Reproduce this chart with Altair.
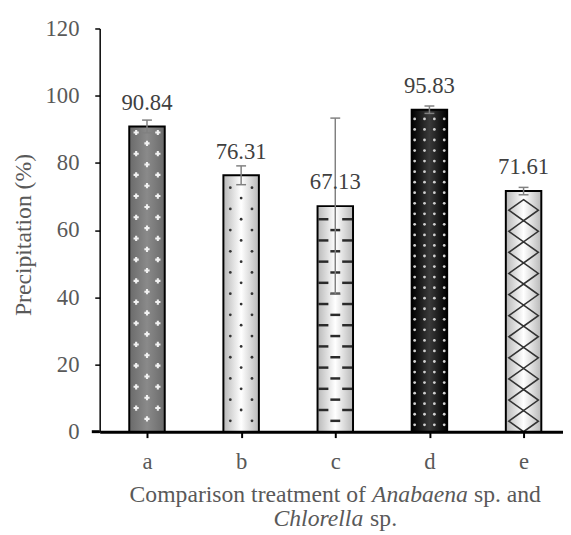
import altair as alt
import pandas as pd

categories = ["a", "b", "c", "d", "e"]
values = [90.84, 76.31, 67.13, 95.83, 71.61]
errors = [1.9, 2.8, 26.2, 1.1, 1.1]
value_labels = ["90.84", "76.31", "67.13", "95.83", "71.61"]
y_ticks = [0, 20, 40, 60, 80, 100, 120]
y_title = "Precipitation (%)"
x_title_1 = ["Comparison treatment of", "Anabaena", "sp. and"]
x_title_2 = ["Chlorella", "sp."]

W, H = 470, 409
STEP = 95.5
X_MIN = -48 / STEP
X_MAX = X_MIN + W / STEP
UX = 1 / STEP
UY = 120 / H
HALF = 18 * UX
FONT = "Liberation Serif, Times New Roman, Tinos, DejaVu Serif, serif"
GRAY = "#595959"
TFS = 23   # tick / value label size
FS = 24    # title size

idx = list(range(len(categories)))
bars = pd.DataFrame({
    "idx": idx, "cat": categories, "value": values, "err": errors,
    "label": value_labels,
})
bars["x1"] = bars["idx"] - HALF
bars["x2"] = bars["idx"] + HALF
bars["lo"] = bars["value"] - bars["err"]
bars["hi"] = bars["value"] + bars["err"]


def lattice(i, cols, step, margin):
    pts = []
    top = values[i] / UY - margin
    for off, start in cols:
        y = start
        while y <= top:
            pts.append({"x": i + off * UX, "y": y * UY})
            y += step
    return pd.DataFrame(pts)


xs = alt.Scale(domain=[X_MIN, X_MAX], nice=False, zero=False)
ys = alt.Scale(domain=[0, 120], nice=False)

label_expr = "[" + ",".join(f"'{c}'" for c in categories) + "][datum.value]"
x_axis = alt.Axis(values=idx, labelExpr=label_expr, grid=False, domainColor="black",
                  domainWidth=3, tickColor="black", tickWidth=2, tickSize=6,
                  labelFont=FONT, labelFontSize=TFS, labelColor=GRAY, labelPadding=13,
                  title=None)
y_axis = alt.Axis(values=y_ticks, grid=False, domainColor="black", domainWidth=1.5,
                  tickColor="black", tickWidth=1.5, tickSize=5, labelFont=FONT,
                  labelFontSize=TFS, labelColor=GRAY, labelPadding=16,
                  title=y_title, titleFont=FONT, titleFontSize=FS,
                  titleFontWeight="normal", titleColor=GRAY,
                  titleX=-77, titleY=209, titleAngle=270, titleAlign="center",
                  titleBaseline="middle")


def X(field):
    return alt.X(field, scale=xs, axis=x_axis)


def Y(field):
    return alt.Y(field, scale=ys, axis=y_axis)


def grad(edge, mid):
    return alt.LinearGradient(
        gradient="linear",
        stops=[alt.GradientStop(color=edge, offset=0),
               alt.GradientStop(color=mid, offset=0.5),
               alt.GradientStop(color=edge, offset=1)],
        x1=0, x2=1, y1=0, y2=0)


fills = [grad("#6a6a6a", "#8a8a8a"), grad("#b8b8b8", "#ffffff"),
         grad("#b8b8b8", "#ffffff"), grad("#000000", "#3a3a3a"),
         grad("#b8b8b8", "#ffffff")]

base = alt.Chart(bars)
layers = []
for i, f in enumerate(fills):
    layers.append(base.mark_rect(color=f).encode(
        x=X("x1:Q"), x2="x2", y=Y("value:Q"), y2=alt.datum(0)
    ).transform_filter(alt.datum.idx == i))


def pts_layer(df, **mk):
    return alt.Chart(df).mark_point(**mk).encode(x=X("x:Q"), y=Y("y:Q"))


def tick_layer(df, **mk):
    return alt.Chart(df).mark_tick(**mk).encode(x=X("x:Q"), y=Y("y:Q"))


tex_a = lattice(0, [(-11, 24), (0, 13), (11, 24)], 21.5, 4)
tex_b = lattice(1, [(-11, 11), (0, 22), (11, 11)], 21.5, 3)
tex_c1 = lattice(2, [(0, 11)], 21.5, 3)
tex_c2 = lattice(2, [(-12, 22), (12, 22)], 21.5, 3)
tex_d = lattice(3, [(-15, 7), (-5, 7), (5, 7), (15, 7)], 10.7, 3)
tex_e = lattice(4, [(0, 10.7)], 21.4, 10.7)

layers += [
    pts_layer(tex_a, shape="cross", size=28, filled=True, color="#f2f2f2", opacity=1, strokeWidth=0),
    pts_layer(tex_b, shape="circle", size=8, filled=True, color="#333333", opacity=1),
    tick_layer(tex_c1, orient="horizontal", size=10, thickness=2.5, color="#2a2a2a", opacity=1),
    tick_layer(tex_c2, orient="horizontal", size=10, thickness=2.5, color="#2a2a2a", opacity=1),
    pts_layer(tex_d, shape="circle", size=8, filled=True, color="#d0d0d0", opacity=1),
    pts_layer(tex_e, shape="M0,-1L1.4,0L0,1L-1.4,0Z", size=458, filled=False,
              color="#333333", strokeWidth=1.6, opacity=1),
]

outline = base.mark_rect(fillOpacity=0, stroke="black", strokeWidth=2).encode(
    x=X("x1:Q"), x2="x2", y=Y("value:Q"), y2=alt.datum(0))
err_rule = base.mark_rule(color="#808080", strokeWidth=1.5).encode(
    x=X("idx:Q"), y=Y("lo:Q"), y2="hi")
cap_lo = base.mark_tick(orient="horizontal", size=10, thickness=1.5, color="#808080", opacity=1).encode(
    x=X("idx:Q"), y=Y("lo:Q"))
cap_hi = base.mark_tick(orient="horizontal", size=10, thickness=1.5, color="#808080", opacity=1).encode(
    x=X("idx:Q"), y=Y("hi:Q"))
vals = base.mark_text(font=FONT, fontSize=TFS, color="#404040", baseline="alphabetic", dy=-17).encode(
    x=X("idx:Q"), y=Y("value:Q"), text="label:N")
# short extension of the x-axis line to the left of the y axis
axis_ext = alt.Chart(pd.DataFrame({"v": [0]})).mark_rule(color="black", strokeWidth=3).encode(
    x=alt.value(-8), x2=alt.value(0), y=Y("v:Q"))

layers += [outline, err_rule, cap_lo, cap_hi, vals, axis_ext]

# x-axis title, mixed roman / italic (Times metrics, 1/1000 em)
em = FS / 1000.0
w1 = 10249 * em   # "Comparison treatment of "
w_it = 4055 * em  # "Anabaena"
sp = 250 * em
line1 = 17387 * em
cx = 340 - 101
l1 = cx - line1 / 2
w_ch = 3834 * em  # "Chlorella"
line2 = 5223 * em
l2 = cx - line2 / 2
Y1, Y2 = 480, 505
title_parts = [
    (x_title_1[0], l1, Y1, "normal"),
    (x_title_1[1], l1 + w1, Y1, "italic"),
    (x_title_1[2], l1 + w1 + w_it + sp, Y1, "normal"),
    (x_title_2[0], l2, Y2, "italic"),
    (x_title_2[1], l2 + w_ch + sp, Y2, "normal"),
]
for txt, px, py, style in title_parts:
    layers.append(
        alt.Chart(pd.DataFrame({"t": [txt]})).mark_text(
            font=FONT, fontSize=FS, fontStyle=style, color=GRAY, align="left",
            baseline="alphabetic").encode(x=alt.value(px), y=alt.value(py), text="t:N"))

chart = alt.layer(*layers).properties(
    width=W, height=H,
    autosize=alt.AutoSizeParams(type="none"),
    padding={"left": 93, "top": 17, "right": 0, "bottom": 100},
).configure_view(stroke=None)

chart.save("out.html", embed_options={"renderer": "svg", "actions": False})
